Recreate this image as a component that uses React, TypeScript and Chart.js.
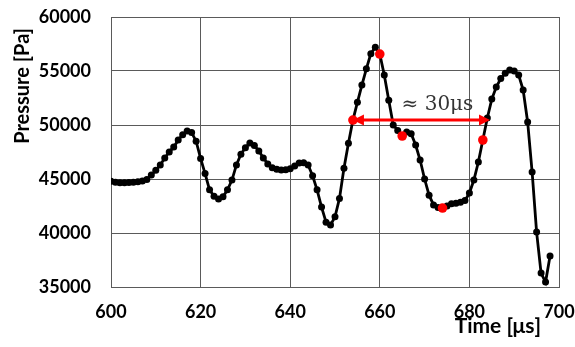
import React, { useEffect, useRef } from "react";
import { Chart, registerables } from "chart.js";

Chart.register(...registerables);

const times = [
  600, 601, 602, 603, 604, 605, 606, 607, 608, 609,
  610, 611, 612, 613, 614, 615, 616, 617, 618, 619,
  620, 621, 622, 623, 624, 625, 626, 627, 628, 629,
  630, 631, 632, 633, 634, 635, 636, 637, 638, 639,
  640, 641, 642, 643, 644, 645, 646, 647, 648, 649,
  650, 651, 652, 653, 654, 655, 656, 657, 658, 659,
  660, 661, 662, 663, 664, 665, 666, 667, 668, 669,
  670, 671, 672, 673, 674, 675, 676, 677, 678, 679,
  680, 681, 682, 683, 684, 685, 686, 687, 688, 689,
  690, 691, 692, 693, 694, 695, 696, 697, 698,
];

const pressure = [
  44800, 44700, 44650, 44650, 44680, 44700, 44750, 44820, 44950, 45370,
  45800, 46300, 46950, 47500, 47960, 48600, 49100, 49450, 49300, 48500,
  46900, 45500, 44000, 43400, 43150, 43350, 44000, 44900, 46300, 47300,
  47900, 48330, 48100, 47600, 46950, 46400, 46050, 45900, 45830, 45850,
  45950, 46200, 46480, 46500, 46300, 45300, 44000, 42400, 41000, 40740,
  41500, 43200, 46000, 48300, 50460, 52100, 53700, 55200, 56600, 57200,
  56570, 54630, 52300, 50000, 49500, 48980, 49350, 49200, 48150, 46760,
  45000, 43500, 42600, 42350, 42310, 42500, 42700, 42750, 42850, 43000,
  43700, 44900, 46570, 48610, 50650, 52400, 53520, 54300, 54800, 55090,
  55000, 54630, 53240, 50280, 45650, 40090, 36290, 35460, 37870,
];

const redTimes = [654, 660, 665, 674, 683];

const xTicks = [600, 620, 640, 660, 680, 700];
const yTicks = [35000, 40000, 45000, 50000, 55000, 60000];

const xTitle = "Time [μs]";
const yTitle = "Pressure [Pa]";
const annotationText = "≈ 30μs";
const arrowFrom = 654;
const arrowTo = 684.6;
const arrowLevel = 50460;

export default function App() {
  const ref = useRef<HTMLCanvasElement | null>(null);

  useEffect(() => {
    if (!ref.current) return;
    const mainData = times.map((t, i) => ({ x: t, y: pressure[i] }));
    const redData = redTimes.map((t) => ({ x: t, y: pressure[times.indexOf(t)] }));

    const overlay = {
      id: "overlay",
      afterDatasetsDraw(chart: any) {
        const ctx = chart.ctx;
        const xs = chart.scales.x;
        const ys = chart.scales.y;
        const x1 = xs.getPixelForValue(arrowFrom);
        const x2 = xs.getPixelForValue(arrowTo);
        const yy = ys.getPixelForValue(arrowLevel);
        ctx.save();
        ctx.strokeStyle = "#ff0000";
        ctx.fillStyle = "#ff0000";
        ctx.lineWidth = 3;
        ctx.beginPath();
        ctx.moveTo(x1 + 6, yy);
        ctx.lineTo(x2 - 8, yy);
        ctx.stroke();
        ctx.beginPath();
        ctx.moveTo(x2, yy);
        ctx.lineTo(x2 - 11, yy - 5.5);
        ctx.lineTo(x2 - 11, yy + 5.5);
        ctx.closePath();
        ctx.fill();
        ctx.beginPath();
        ctx.moveTo(x1, yy);
        ctx.lineTo(x1 + 11, yy - 5.5);
        ctx.lineTo(x1 + 11, yy + 5.5);
        ctx.closePath();
        ctx.fill();
        ctx.fillStyle = "#333333";
        ctx.font = "20px 'DejaVu Serif'";
        ctx.textAlign = "center";
        ctx.textBaseline = "alphabetic";
        ctx.fillText(annotationText, (x1 + x2) / 2 + 16, yy - 10);
        ctx.restore();
      },
      afterDraw(chart: any) {
        const ctx = chart.ctx;
        const area = chart.chartArea;
        ctx.save();
        ctx.fillStyle = "#000000";
        ctx.font = "bold 21px Lato";
        ctx.textAlign = "right";
        ctx.textBaseline = "middle";
        ctx.fillText(xTitle, area.right - 18, 326);
        ctx.font = "bold 20px Lato";
        ctx.translate(23, area.top + 11);
        ctx.rotate(-Math.PI / 2);
        ctx.textAlign = "right";
        ctx.fillText(yTitle, 0, 0);
        ctx.restore();
      },
    };

    const chart = new Chart(ref.current, {
      type: "line",
      data: {
        datasets: [
          {
            data: redData,
            showLine: false,
            pointRadius: 4.8,
            pointBackgroundColor: "#ff0000",
            pointBorderColor: "#ff0000",
            pointBorderWidth: 0,
            order: 0,
          },
          {
            data: mainData,
            borderColor: "#000000",
            borderWidth: 2.8,
            pointRadius: 3.5,
            pointBackgroundColor: "#000000",
            pointBorderColor: "#000000",
            pointBorderWidth: 0,
            tension: 0,
            order: 1,
          },
        ],
      },
      options: {
        animation: false,
        responsive: false,
        events: [],
        layout: { padding: { top: 17, right: 16, left: 0, bottom: 0 } },
        plugins: { legend: { display: false }, tooltip: { enabled: false } },
        scales: {
          x: {
            type: "linear",
            min: 600,
            max: 700,
            afterBuildTicks: (s: any) => {
              s.ticks = xTicks.map((v) => ({ value: v }));
            },
            afterFit: (s: any) => {
              s.height = 60;
              s.paddingLeft = 0;
              s.paddingRight = 0;
            },
            grid: { color: "#5a5a5a", lineWidth: 1, drawTicks: false },
            border: { color: "#5a5a5a", width: 1 },
            ticks: {
              padding: 14,
              color: "#000000",
              font: { family: "Lato", size: 18, weight: "bold" },
              callback: (v: any) => String(v),
              maxRotation: 0,
            },
          },
          y: {
            type: "linear",
            min: 35000,
            max: 60000,
            afterBuildTicks: (s: any) => {
              s.ticks = yTicks.map((v) => ({ value: v }));
            },
            afterFit: (s: any) => {
              s.width = 111;
              s.paddingTop = 0;
              s.paddingBottom = 0;
            },
            grid: { color: "#5a5a5a", lineWidth: 1, drawTicks: false },
            border: { color: "#5a5a5a", width: 1 },
            ticks: {
              padding: 20,
              color: "#000000",
              font: { family: "Lato", size: 18, weight: "bold" },
              callback: (v: any) => String(v),
            },
          },
        },
      },
      plugins: [overlay],
    });
    return () => chart.destroy();
  }, []);

  return (
    <div style={{ position: "absolute", left: 0, top: 0, width: 575, height: 347, background: "#ffffff" }}>
      <canvas ref={ref} width={575} height={347} />
    </div>
  );
}
